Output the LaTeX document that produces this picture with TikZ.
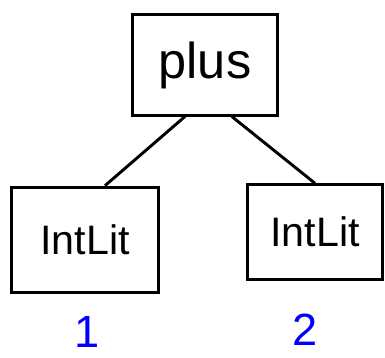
\documentclass[tikz,border=0pt]{standalone}
\usepackage{fontspec}
\setmainfont{Liberation Sans}
\usetikzlibrary{positioning}
\tikzset{
  box/.style={draw, line width=2.2pt, inner sep=0pt},
  num/.style={text=blue, inner sep=0pt, font=\fontsize{34}{34}\selectfont},
}
\begin{document}
\begin{tikzpicture}[x=0.02646cm,y=-0.02646cm,line width=2.2pt]
\useasboundingbox (0,0) rectangle (385,358);
\node[box, minimum width=3.84cm, minimum height=2.65cm, font=\fontsize{38}{38}\selectfont] (plus) at (205,65) {plus};
\node[box, minimum width=3.9cm, minimum height=2.8cm, font=\fontsize{31}{31}\selectfont] (lit1) at (85,240) {IntLit};
\node[box, minimum width=3.57cm, minimum height=2.5cm, font=\fontsize{31}{31}\selectfont] (lit2) at (315,232) {IntLit};
\draw ([xshift=-0.53cm]plus.south) -- ([xshift=0.53cm]lit1.north);
\draw ([xshift=0.71cm]plus.south) -- (lit2.north);
\node[num] (n1) at (87,332) {1};   % value of left leaf
\node[num] (n2) at (305,330) {2};  % value of right leaf
\end{tikzpicture}
\end{document}
